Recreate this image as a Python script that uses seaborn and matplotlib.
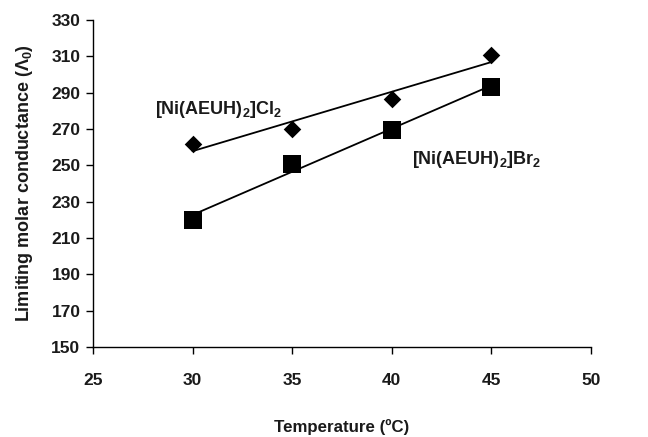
import matplotlib
matplotlib.use("Agg")
import matplotlib.pyplot as plt
import seaborn as sns
import pandas as pd

temperature = [30, 35, 40, 45]
cl_values = [262, 270, 286.5, 311]
br_values = [220, 251, 269.5, 293]
x_ticks = [25, 30, 35, 40, 45, 50]
y_ticks = [150, 170, 190, 210, 230, 250, 270, 290, 310, 330]
cl_label = r"[Ni(AEUH)$_2$]Cl$_2$"
br_label = r"[Ni(AEUH)$_2$]Br$_2$"

sns.set_theme(style="ticks")
plt.rcParams["font.family"] = ["Liberation Sans", "DejaVu Sans"]
plt.rcParams["font.weight"] = "bold"
plt.rcParams["mathtext.fontset"] = "custom"
plt.rcParams["mathtext.rm"] = "Liberation Sans:bold"
plt.rcParams["mathtext.bf"] = "Liberation Sans:bold"
plt.rcParams["mathtext.it"] = "Liberation Sans:italic:bold"
plt.rcParams["mathtext.default"] = "bf"

df = pd.DataFrame({"T": temperature, "Cl": cl_values, "Br": br_values})

fig = plt.figure(figsize=(6.48, 4.37), dpi=100)
ax = fig.add_axes([0.1435, 0.206, 0.7685, 0.748])

sns.regplot(data=df, x="T", y="Cl", ax=ax, ci=None, scatter=False, truncate=True,
            line_kws=dict(color="black", lw=1.3))
sns.regplot(data=df, x="T", y="Br", ax=ax, ci=None, scatter=False, truncate=True,
            line_kws=dict(color="black", lw=1.3))
sns.scatterplot(data=df, x="T", y="Cl", ax=ax, marker="D", s=80, color="black",
                edgecolor="black", linewidth=0, zorder=3)
sns.scatterplot(data=df, x="T", y="Br", ax=ax, marker="s", s=170, color="black",
                edgecolor="black", linewidth=0, zorder=3)

ax.set_xlim(25, 50)
ax.set_ylim(150, 330)
ax.set_xticks(x_ticks)
ax.set_yticks(y_ticks)
ax.tick_params(axis="both", labelsize=12.5, width=1, length=5, color="black",
               labelcolor="#1a1a1a", direction="out")
for lbl in ax.get_xticklabels() + ax.get_yticklabels():
    lbl.set_fontweight("bold")
ax.tick_params(axis="x", pad=14)
ax.tick_params(axis="y", pad=4)
sns.despine(ax=ax)
for s in ["left", "bottom"]:
    ax.spines[s].set_color("black")
    ax.spines[s].set_linewidth(1)

ax.set_xlabel("Temperature (ºC)", fontsize=12.2, fontweight="bold", labelpad=22, color="#1a1a1a")
ax.set_ylabel(r"Limiting molar conductance ($\mathit{\Lambda}_0$)", fontsize=13,
              fontweight="bold", labelpad=12, color="#1a1a1a")

ax.text(28.1, 280.5, cl_label, fontsize=13, fontweight="bold", color="#1a1a1a",
        ha="left", va="center")
ax.text(41.0, 253.5, br_label, fontsize=13, fontweight="bold", color="#1a1a1a",
        ha="left", va="center")

fig.savefig("out.png", dpi=100)
